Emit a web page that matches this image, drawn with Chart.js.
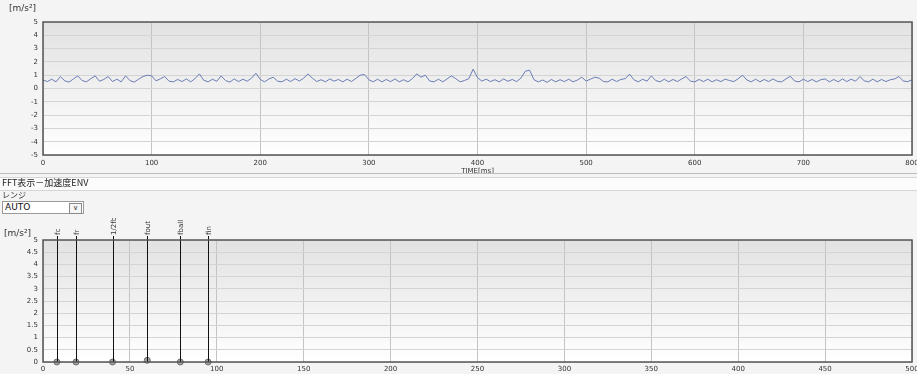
<!DOCTYPE html>
<html>
<head>
<meta charset="utf-8">
<script src="https://cdn.jsdelivr.net/npm/chart.js@4"></script>
<style>
html,body{margin:0;padding:0;width:917px;height:374px;overflow:hidden;background:#f4f4f4;font-family:"Noto Sans CJK JP","DejaVu Sans",sans-serif;}
#c1wrap{position:absolute;left:0;top:0;width:917px;height:175px;}
#c2wrap{position:absolute;left:0;top:218px;width:917px;height:170px;}
.lbl{position:absolute;font-size:9px;color:#333;font-family:"DejaVu Sans",sans-serif;}
#sep{position:absolute;left:0;top:173px;width:917px;height:1px;background:#bdbdbd;}
#band{position:absolute;left:0;top:177px;width:917px;height:12px;background:#fbfbfb;border-top:1px solid #d6d6d6;border-bottom:1px solid #d6d6d6;}
#fftTitle{position:absolute;left:2px;top:176px;font-size:9px;color:#222;line-height:13px;}
#range{position:absolute;left:2px;top:189px;font-size:8px;color:#333;line-height:11px;}
#sel{position:absolute;left:2px;top:201px;width:82px;height:13px;background:#fff;border:1px solid #9a9a9a;box-sizing:border-box;font-size:9px;line-height:11px;color:#111;padding-left:2px;font-family:"DejaVu Sans",sans-serif;}
#selbtn{position:absolute;right:1px;top:1px;width:11px;height:9px;border:1px solid #8a8a8a;background:#f6f6f6;font-size:7px;line-height:9px;text-align:center;color:#333;}
</style>
</head>
<body>
<div id="c1wrap"><canvas id="c1" width="917" height="175"></canvas></div>
<div class="lbl" style="left:9px;top:3px;">[m/s²]</div>
<div id="sep"></div>
<div id="band"></div>
<div id="fftTitle">FFT表示－加速度ENV</div>
<div id="range">レンジ</div>
<div id="sel">AUTO<div id="selbtn">∨</div></div>
<div id="c2wrap"><canvas id="c2" width="917" height="170"></canvas></div>
<div class="lbl" style="left:4px;top:228px;">[m/s²]</div>
<script>
// ---- data ----
const timeStepMs = 4;
const timeValues = [
0.64,0.52,0.7,0.5,0.9,0.58,0.48,0.72,0.95,0.6,
0.5,0.74,0.95,0.55,0.68,0.9,0.52,0.7,0.5,0.95,
0.6,0.48,0.7,0.9,1.0,0.95,0.58,0.72,0.9,0.55,
0.5,0.68,0.52,0.72,0.5,0.75,1.1,0.62,0.5,0.7,
0.54,0.95,0.6,0.48,0.72,0.52,0.7,0.55,0.78,1.15,
0.68,0.5,0.72,0.85,0.55,0.5,0.7,0.52,0.74,0.56,
0.78,1.1,0.78,0.52,0.66,0.5,0.72,0.55,0.68,0.5,
0.7,0.52,0.76,1.0,1.05,0.66,0.5,0.7,0.5,0.68,
0.52,0.72,0.5,0.66,0.5,0.74,1.1,0.85,1.0,0.56,
0.5,0.7,0.5,0.72,0.95,0.74,0.5,0.6,0.74,1.45,
0.82,0.56,0.7,0.52,0.66,0.5,0.72,0.54,0.68,0.52,
0.78,1.3,1.38,0.66,0.5,0.64,0.46,0.68,0.5,0.66,
0.52,0.7,0.5,0.64,0.85,0.56,0.7,0.85,0.78,0.52,
0.5,0.7,0.52,0.68,0.74,1.08,0.66,0.5,0.7,0.55,
0.95,0.6,0.5,0.7,0.5,0.68,0.52,0.72,0.9,0.55,
0.5,0.68,0.52,0.7,0.5,0.66,0.52,0.7,0.6,0.52,
0.74,1.0,0.64,0.5,0.7,0.5,0.68,0.52,0.72,0.54,
0.5,0.72,0.92,0.56,0.5,0.7,0.52,0.68,0.5,0.66,
0.72,0.5,0.68,0.5,0.72,0.52,0.7,0.55,0.9,0.58,
0.5,0.7,0.5,0.68,0.52,0.66,0.72,0.9,0.56,0.52,
0.64
];
const markerFreqs  = [8, 19, 40, 60, 79, 95];
const markerLabels = ['fc', 'fr', '1/2fb', 'fout', 'fball', 'fin'];
const markerValues = [0, 0, 0, 0.07, 0, 0];
const timeTicks = [0,100,200,300,400,500,600,700,800];
const freqTicks = [0,50,100,150,200,250,300,350,400,450,500];

// ---- helpers ----
const tickFont = {family:'DejaVu Sans', size:7};
const tickColor = '#333';
const bgPlugin = {
  id:'bgGrad',
  beforeDraw(chart){
    const {ctx, chartArea:{left,top,right,bottom}} = chart;
    const g = ctx.createLinearGradient(0,top,0,bottom);
    g.addColorStop(0,'#e2e2e2'); g.addColorStop(1,'#ffffff');
    ctx.save(); ctx.fillStyle=g; ctx.fillRect(left,top,right-left,bottom-top); ctx.restore();
  },
  afterDraw(chart){
    const {ctx, chartArea:{left,top,right,bottom}} = chart;
    ctx.save(); ctx.strokeStyle='#555'; ctx.lineWidth=1.5;
    ctx.strokeRect(left,top,right-left,bottom-top); ctx.restore();
  }
};
function fixY(w){ return s=>{ s.width=w; s.paddingTop=0; s.paddingBottom=0; }; }
function fixX(h){ return s=>{ s.height=h; s.paddingLeft=0; s.paddingRight=0; }; }
const fmtNum = v => Number.isInteger(v) ? String(v) : v.toFixed(1);

// ---- time chart ----
const timePoints = timeValues.map((v,i)=>({x:i*timeStepMs, y:v}));
new Chart(document.getElementById('c1'), {
  type:'line',
  data:{datasets:[{data:timePoints, borderColor:'#6a7db6', borderWidth:1, pointRadius:0, tension:0, fill:false}]},
  options:{
    responsive:false, animation:false, events:[],
    layout:{padding:{top:22,right:5,left:0,bottom:0}},
    plugins:{legend:{display:false}, tooltip:{enabled:false}},
    scales:{
      x:{type:'linear', min:0, max:800,
        afterBuildTicks:s=>{s.ticks=timeTicks.map(v=>({value:v}));},
        afterFit:fixX(20),
        grid:{color:'#c4c4c4', drawTicks:false},
        border:{display:false},
        ticks:{font:tickFont, color:tickColor, padding:4, maxRotation:0, autoSkip:false},
        title:{display:true, text:'TIME[ms]', font:tickFont, color:tickColor, padding:0}
      },
      y:{min:-5, max:5,
        ticks:{stepSize:1, font:tickFont, color:tickColor, padding:5},
        afterFit:fixY(43),
        grid:{color:'#d4d4d4', drawTicks:false},
        border:{display:false}
      }
    }
  },
  plugins:[bgPlugin]
});

// ---- FFT chart ----
const markerPlugin = {
  id:'markers',
  afterDatasetsDraw(chart){
    const {ctx, scales:{x,y}, chartArea} = chart;
    ctx.save();
    ctx.strokeStyle='#111'; ctx.lineWidth=1;
    ctx.fillStyle='#333'; ctx.font='7px "DejaVu Sans"';
    markerFreqs.forEach((f,i)=>{
      const px = Math.round(x.getPixelForValue(f))+0.5;
      ctx.beginPath();
      ctx.moveTo(px, y.getPixelForValue(0));
      ctx.lineTo(px, chartArea.top-4);
      ctx.stroke();
      ctx.save();
      ctx.translate(px+2.5, chartArea.top-5);
      ctx.rotate(-Math.PI/2);
      ctx.textAlign='left'; ctx.textBaseline='alphabetic';
      ctx.fillText(markerLabels[i],0,0);
      ctx.restore();
    });
    ctx.restore();
  }
};
new Chart(document.getElementById('c2'), {
  type:'scatter',
  data:{datasets:[{
    data:markerFreqs.map((f,i)=>({x:f, y:markerValues[i]})),
    pointRadius:3, backgroundColor:'#a0a0a0', borderColor:'#707070', borderWidth:1, clip:false
  }]},
  options:{
    responsive:false, animation:false, events:[],
    layout:{padding:{top:22,right:4,left:0,bottom:0}},
    plugins:{legend:{display:false}, tooltip:{enabled:false}},
    scales:{
      x:{type:'linear', min:0, max:500,
        afterBuildTicks:s=>{s.ticks=freqTicks.map(v=>({value:v}));},
        afterFit:fixX(26),
        grid:{color:'#c4c4c4', drawTicks:false},
        border:{display:false},
        ticks:{font:tickFont, color:tickColor, padding:3, maxRotation:0, autoSkip:false},
        title:{display:true, text:'Frequency[Hz]', font:tickFont, color:tickColor, padding:2}
      },
      y:{min:0, max:5,
        ticks:{stepSize:0.5, font:tickFont, color:tickColor, padding:5, callback:v=>fmtNum(v)},
        afterFit:fixY(43),
        grid:{color:'#d4d4d4', drawTicks:false},
        border:{display:false}
      }
    }
  },
  plugins:[bgPlugin, markerPlugin]
});
</script>
</body>
</html>
